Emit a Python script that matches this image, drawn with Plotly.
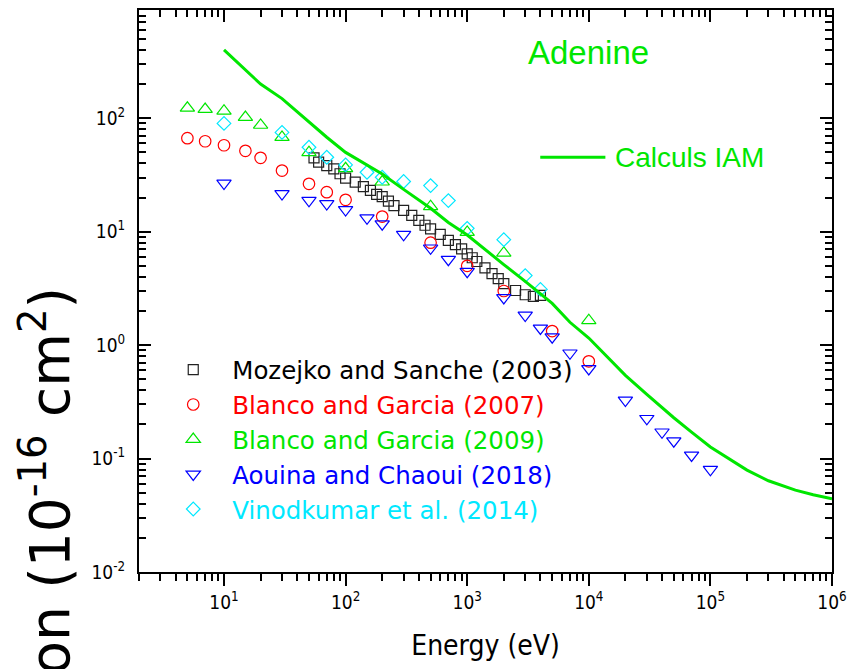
import math
import plotly.graph_objects as go

# Total cross sections of adenine, energies in eV, cross sections in 1e-16 cm^2
mozejko_e = [55, 60, 70, 80, 90, 100, 120, 140, 160, 180, 200, 225, 250, 300, 350,
             400, 450, 500, 600, 700, 800, 900, 1000, 1100, 1200, 1400, 1600, 1800,
             2000, 2500, 3000, 3500, 4000]
mozejko_cs = [44.8, 41.0, 38.3, 35.8, 32.4, 29.6, 27.3, 25.0, 23.1, 21.3, 20.4, 18.6,
              17.0, 15.4, 13.9, 12.6, 11.4, 10.6, 9.45, 8.37, 7.7, 7.06, 6.38, 5.89,
              5.46, 4.8, 4.26, 3.85, 3.48, 3.03, 2.78, 2.69, 2.74]

blanco07_e = [5, 7, 10, 15, 20, 30, 50, 70, 100, 200, 500, 1000, 2000, 5000, 10000]
blanco07_cs = [66.7, 62.7, 57.8, 51.6, 44.8, 34.6, 26.4, 22.3, 19.1, 13.6, 8.0, 5.0,
               3.0, 1.33, 0.72]

blanco09_e = [5, 7, 10, 15, 20, 30, 50, 100, 200, 500, 1000, 2000, 10000]
blanco09_cs = [123, 120, 116, 102, 87, 68, 50, 36, 27.5, 16.7, 9.9, 6.5, 1.65]

aouina_e = [10, 30, 50, 70, 100, 150, 200, 300, 500, 700, 1000, 2000, 3000, 4000,
            5000, 7000, 10000, 20000, 30000, 40000, 50000, 70000, 100000]
aouina_cs = [26.7, 21.6, 18.8, 17.6, 15.6, 13.2, 11.7, 9.44, 7.16, 5.69, 4.46, 2.62,
             1.83, 1.41, 1.18, 0.85, 0.62, 0.326, 0.225, 0.171, 0.143, 0.107, 0.080]

vinod_e = [10, 30, 50, 70, 100, 150, 200, 300, 500, 700, 1000, 2000, 3000, 4000]
vinod_cs = [90, 75, 55.5, 45.3, 38.8, 33.4, 30.2, 27.7, 25.5, 18.8, 10.7, 8.5, 4.1, 3.1]

iam_e = [10, 20, 30, 50, 70, 100, 200, 300, 500, 700, 1000, 2000, 3000, 5000, 7000,
         10000, 20000, 30000, 50000, 70000, 100000, 200000, 300000, 500000, 700000,
         1000000]
iam_cs = [400, 200, 149, 92, 68, 50, 32.2, 23.6, 16.1, 12.05, 9.35, 5.13, 3.65, 2.33,
          1.59, 1.155, 0.541, 0.368, 0.229, 0.171, 0.1265, 0.0791, 0.0637, 0.0527,
          0.0479, 0.0443]

x_major = [10, 100, 1000, 10000, 100000, 1000000]
x_major_text = ["10<sup>1</sup>", "10<sup>2</sup>", "10<sup>3</sup>",
                "10<sup>4</sup>", "10<sup>5</sup>", "10<sup>6</sup>"]
y_major = [0.01, 0.1, 1, 10, 100]
y_major_text = ["10<sup>-2</sup>", "10<sup>-1</sup>", "10<sup>0</sup>",
                "10<sup>1</sup>", "10<sup>2</sup>"]

x_minor = [m * 10 ** k for k in range(0, 6) for m in range(2, 10)]
y_minor = [m * 10 ** k for k in range(-2, 3) for m in range(2, 10)]

X_RANGE = [math.log10(2), 6]
Y_RANGE = [-2, math.log10(900)]

RED = "#FF0000"
GREEN = "#00E600"
BLUE = "#0000FF"
CYAN = "#00E8FF"
GREY = "#222222"

NARROW = "Liberation Sans Narrow, Arial Narrow, DejaVu Sans Condensed, sans-serif"
SANS = "Liberation Sans, Arial, sans-serif"
WIDE = "DejaVu Sans, Verdana, sans-serif"


def label(text, color):
    return f"<span style='color:{color}'>{text}</span>"


fig = go.Figure()

fig.add_trace(go.Scatter(
    x=iam_e, y=iam_cs, mode="lines", xaxis="x2", yaxis="y",
    line=dict(color=GREEN, width=3), showlegend=False, name="Calculs IAM"))

series = [
    (mozejko_e, mozejko_cs, "square-open", 10, GREY, "Mozejko and Sanche (2003)", "black"),
    (blanco07_e, blanco07_cs, "circle-open", 11.5, RED, "Blanco and Garcia (2007)", RED),
    (blanco09_e, blanco09_cs, "triangle-up-open", 12.5, GREEN, "Blanco and Garcia (2009)", GREEN),
    (aouina_e, aouina_cs, "triangle-down-open", 12.5, BLUE, "Aouina and Chaoui (2018)", BLUE),
    (vinod_e, vinod_cs, "diamond-open", 10.5, CYAN, "Vinodkumar et al. (2014)", CYAN),
]
for xs, ys, sym, size, col, name, tcol in series:
    fig.add_trace(go.Scatter(
        x=xs, y=ys, mode="markers", name=label(name, tcol),
        marker=dict(symbol=sym, size=size, color=col, line=dict(width=1.2, color=col))))

axis_common = dict(type="log", showline=True, linewidth=2, linecolor="black",
                   showgrid=False, zeroline=False, tickwidth=2, ticklen=12,
                   tickcolor="black", automargin=False)

fig.update_layout(
    width=847, height=669,
    margin=dict(l=139, r=15, t=10, b=97),
    paper_bgcolor="white", plot_bgcolor="white",
    font=dict(family=SANS, color="black"),
    xaxis=dict(**axis_common, range=X_RANGE, ticks="outside",
               tickvals=x_major, ticktext=x_major_text,
               tickfont=dict(family=NARROW, size=19),
               minor=dict(ticks="outside", ticklen=7, tickwidth=1.5,
                          tickcolor="black", tickvals=x_minor),
               title=dict(text="Energy (eV)", font=dict(family=NARROW, size=28),
                          standoff=24)),
    xaxis2=dict(**axis_common, range=X_RANGE, overlaying="x", side="top",
                anchor="y", matches="x", ticks="inside", tickvals=x_major,
                showticklabels=False,
                minor=dict(ticks="inside", ticklen=7, tickwidth=1.5,
                           tickcolor="black", tickvals=x_minor)),
    yaxis=dict(**axis_common, range=Y_RANGE, ticks="inside", mirror="ticks",
               tickvals=y_major, ticktext=y_major_text,
               tickfont=dict(family=NARROW, size=19), ticklabelstandoff=8,
               minor=dict(ticks="inside", ticklen=7, tickwidth=1.5,
                          tickcolor="black", tickvals=y_minor)),
    legend=dict(x=0.022, y=0.40, xanchor="left", yanchor="top",
                bgcolor="rgba(0,0,0,0)", font=dict(family=WIDE, size=24.5),
                tracegroupgap=0, itemwidth=68),
)

# Axis title on the left, set large and running off the page edge
fig.add_annotation(
    text="Cross section (10<sup>-16</sup> cm<sup>2</sup>)",
    xref="paper", yref="paper", x=-0.134, y=0.509,
    xanchor="center", yanchor="top", textangle=-90, showarrow=False,
    font=dict(family=WIDE, size=55, color="black"))

fig.add_annotation(
    text="Adenine", xref="paper", yref="paper", x=0.648, y=0.925,
    xanchor="center", yanchor="middle", showarrow=False,
    font=dict(family=SANS, size=33, color=GREEN))

# Key for the calculated curve
fig.add_shape(type="line", xref="paper", yref="paper",
              x0=0.579, x1=0.673, y0=0.738, y1=0.738,
              line=dict(color=GREEN, width=3))
fig.add_annotation(
    text="Calculs IAM", xref="paper", yref="paper", x=0.684, y=0.738,
    xanchor="left", yanchor="middle", showarrow=False,
    font=dict(family=SANS, size=28, color=GREEN))

fig.write_html("out.html")
